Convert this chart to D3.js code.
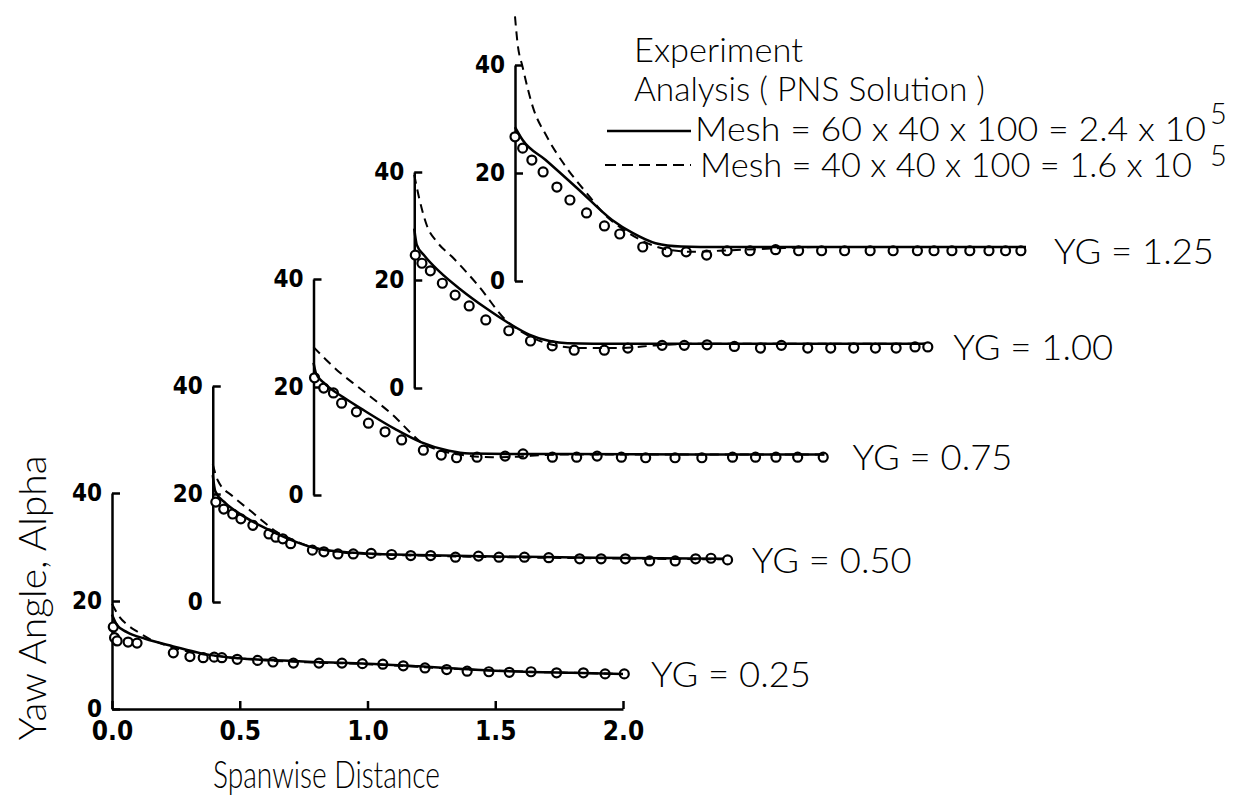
<!DOCTYPE html>
<html lang="en">
<head>
<meta charset="utf-8">
<style type="text/css">
  body { margin: 0; background: #fff; }
  svg { display: block; background: #fff; }
  .axis .domain, .axis .tick line { stroke: #000; stroke-width: 2.5px; }
  .axis .tick text { fill: #000; }
  .label { font-family: Lato, "DejaVu Sans Condensed", sans-serif; font-weight: 300; fill: #000; }
  .fine { fill: none; stroke: #000; stroke-width: 2.5px; }
  .coarse { fill: none; stroke: #000; stroke-width: 2px; stroke-dasharray: 9 6; }
  .exp { fill: #fff; stroke: #000; stroke-width: 2.2px; }
</style>
</head>
<body>
<svg width="1240" height="800"></svg>
<script src="https://cdn.jsdelivr.net/npm/d3@7/dist/d3.min.js"></script>
<script type="text/javascript">

// spanwise stations (YG) and the tick labels
var stations = ["0.25", "0.50", "0.75", "1.00", "1.25"];
var xTicks = [0, 0.5, 1.0, 1.5, 2.0];
var yTicks = [0, 20, 40];

// experiment, [spanwise distance, yaw angle]
var exp025 = [[0.005,15.2],[0.01,13.2],[0.02,12.6],[0.063,12.4],[0.098,12.2],[0.24,10.4],[0.305,9.7],[0.357,9.5],[0.40,9.6],[0.43,9.5],[0.49,9.2],[0.57,9.0],[0.63,8.7],[0.71,8.5],[0.81,8.5],[0.90,8.5],[0.98,8.4],[1.06,8.3],[1.14,8.0],[1.225,7.6],[1.31,7.3],[1.39,7.0],[1.475,6.9],[1.555,6.8],[1.64,6.9],[1.74,6.7],[1.845,6.7],[1.93,6.5],[2.005,6.5]];
var exp050 = [[0.012,18.5],[0.043,17.2],[0.078,16.3],[0.11,15.4],[0.157,14.2],[0.22,12.6],[0.247,12.0],[0.274,11.7],[0.305,10.8],[0.39,9.6],[0.435,9.3],[0.49,8.9],[0.55,8.9],[0.62,9.0],[0.70,8.8],[0.775,8.6],[0.853,8.6],[0.95,8.3],[1.04,8.5],[1.12,8.3],[1.22,8.3],[1.315,8.2],[1.436,8.0],[1.52,8.0],[1.615,8.0],[1.71,7.6],[1.81,7.6],[1.89,8.0],[1.95,8.1],[2.015,7.8]];
var exp075 = [[0.004,21.7],[0.04,19.8],[0.078,18.9],[0.11,17.0],[0.168,15.4],[0.215,13.3],[0.28,11.7],[0.345,10.2],[0.43,8.3],[0.50,7.4],[0.56,6.9],[0.64,7.0],[0.75,7.2],[0.82,7.6],[0.935,7.0],[1.03,7.0],[1.11,7.2],[1.205,7.0],[1.30,6.9],[1.415,6.9],[1.52,6.9],[1.64,7.0],[1.73,7.0],[1.81,7.0],[1.895,7.0],[1.995,7.0]];
var exp100 = [[0.004,24.6],[0.03,23.1],[0.063,21.7],[0.11,19.4],[0.16,17.2],[0.215,15.2],[0.28,12.6],[0.37,10.6],[0.455,8.7],[0.54,7.8],[0.626,7.0],[0.744,7.0],[0.836,7.4],[0.97,7.9],[1.057,7.9],[1.146,8.0],[1.253,7.7],[1.355,7.4],[1.437,7.9],[1.54,7.4],[1.63,7.4],[1.72,7.4],[1.805,7.4],[1.886,7.4],[1.96,7.6],[2.01,7.6]];
var exp125 = [[0.0,26.7],[0.03,24.6],[0.066,22.4],[0.11,20.2],[0.164,17.4],[0.215,15.0],[0.28,12.6],[0.35,10.2],[0.41,8.7],[0.50,6.3],[0.595,5.4],[0.67,5.4],[0.75,4.8],[0.83,5.6],[0.92,5.6],[1.02,5.8],[1.11,5.6],[1.20,5.6],[1.29,5.6],[1.39,5.6],[1.48,5.6],[1.575,5.6],[1.64,5.6],[1.71,5.6],[1.78,5.6],[1.855,5.6],[1.92,5.6],[1.98,5.6]];

// PNS solution, mesh 60 x 40 x 100 (solid)
var fine025 = [[0,17.5],[0.02,15.5],[0.06,14.2],[0.13,13.0],[0.24,11.6],[0.35,10.3],[0.45,9.6],[0.6,9.1],[0.8,8.7],[1.0,8.4],[1.2,7.9],[1.5,7.1],[1.8,6.7],[2.0,6.5]];
var fine050 = [[0,23.5],[0.01,20.5],[0.05,18.3],[0.1,16.5],[0.2,13.8],[0.3,11.6],[0.4,10.0],[0.5,9.3],[0.6,9.0],[0.8,8.7],[1.0,8.5],[1.5,8.2],[2.0,8.0]];
var fine075 = [[0,24.5],[0.01,22.5],[0.04,20.8],[0.12,18.0],[0.2,15.6],[0.32,12.2],[0.42,9.8],[0.53,8.2],[0.61,7.7],[0.8,7.6],[1.0,7.6],[1.5,7.5],[2.0,7.5]];
var fine100 = [[0,29.5],[0.01,26.5],[0.04,24.5],[0.1,21.5],[0.18,18.3],[0.28,14.8],[0.37,12.0],[0.45,9.9],[0.53,8.7],[0.6,8.3],[0.8,8.2],[1.0,8.2],[1.5,8.2],[2.0,8.2]];
var fine125 = [[0,28.5],[0.03,26.1],[0.12,22.4],[0.25,16.9],[0.38,11.3],[0.46,8.9],[0.55,7.0],[0.65,6.4],[0.8,6.3],[1.0,6.3],[1.5,6.3],[2.0,6.3]];

// PNS solution, mesh 40 x 40 x 100 (dashed)
var coarse025 = [[0,19.5],[0.03,17.0],[0.06,15.6],[0.1,14.3],[0.15,12.9],[0.2,12.0],[0.3,10.6],[0.45,9.6],[0.6,9.0],[0.8,8.6],[1.0,8.3],[1.2,7.8],[1.5,7.1],[1.8,6.7],[2.0,6.5]];
var coarse050 = [[0,25.5],[0.02,22.5],[0.08,19.5],[0.15,16.8],[0.2,14.8],[0.25,13.0],[0.3,11.8],[0.4,10.0],[0.5,9.2],[0.6,8.9],[0.8,8.6],[1.0,8.4],[1.5,8.1],[2.0,7.9]];
var coarse075 = [[0,27.4],[0.05,25.0],[0.1,22.8],[0.175,20.0],[0.25,17.2],[0.32,14.4],[0.37,12.0],[0.42,9.8],[0.5,8.2],[0.6,7.3],[0.7,7.0],[0.8,7.1],[0.9,7.4],[1.0,7.5],[1.5,7.5],[2.0,7.5]];
var coarse100 = [[0,39.5],[0.02,35.0],[0.05,30.0],[0.09,27.0],[0.15,24.2],[0.25,19.0],[0.36,12.5],[0.45,9.6],[0.55,7.9],[0.65,7.4],[0.8,7.4],[0.95,7.9],[1.1,8.2],[1.5,8.2],[2.0,8.2]];
var coarse125 = [[0,49.0],[0.01,44.0],[0.03,39.6],[0.07,32.2],[0.125,26.7],[0.2,21.1],[0.28,16.3],[0.36,11.9],[0.41,10.0],[0.5,7.4],[0.6,5.8],[0.7,5.4],[0.8,5.6],[1.0,6.0],[1.2,6.3],[1.5,6.3],[2.0,6.3]];

var expSets = [exp025, exp050, exp075, exp100, exp125];
var fineSets = [fine025, fine050, fine075, fine100, fine125];
var coarseSets = [coarse025, coarse050, coarse075, coarse100, coarse125];

var svg = d3.select("svg");
var narrow = '"DejaVu Sans Condensed", "Liberation Sans Narrow", sans-serif';

// each station is a copy of the same axes, shifted up and right
var origin = {x: 112, y: 709},
    step = {x: 100.75, y: -107};

var x = d3.scaleLinear().domain([0, 2]).range([0, 511]);
var y = d3.scaleLinear().domain([0, 40]).range([0, -216]);

var line = d3.line()
    .x(function (d) {return x(d[0]);})
    .y(function (d) {return y(d[1]);})
    .curve(d3.curveMonotoneX);

stations.forEach(function (yg, i) {
    var ox = origin.x + i * step.x,
        oy = origin.y + i * step.y;

    var g = svg.append("g").attr("transform", "translate(" + ox + "," + oy + ")");

    g.append("g")
        .attr("class", "axis")
        .call(d3.axisLeft(y).tickValues(yTicks).tickFormat(d3.format("d"))
            .tickSizeInner(-8).tickSizeOuter(0).tickPadding(10))
        .attr("font-size", 24)
        .attr("font-weight", "bold")
        .attr("font-family", narrow);

    if (i == 0) {
        g.append("g")
            .attr("class", "axis")
            .call(d3.axisBottom(x).tickValues(xTicks).tickFormat(d3.format(".1f"))
                .tickSizeInner(-8).tickSizeOuter(0).tickPadding(13))
            .attr("font-size", 26)
            .attr("font-weight", "bold")
            .attr("font-family", narrow);
    }

    g.selectAll(".exp")
        .data(expSets[i])
        .enter()
        .append("circle")
        .attr("class", "exp")
        .attr("cx", function (d) {return x(d[0]);})
        .attr("cy", function (d) {return y(d[1]);})
        .attr("r", 4.5);

    g.append("path").datum(coarseSets[i]).attr("class", "coarse").attr("d", line);
    g.append("path").datum(fineSets[i]).attr("class", "fine").attr("d", line);

    var last = expSets[i][expSets[i].length - 1];
    g.append("text")
        .attr("class", "label")
        .attr("x", x(2) + 28)
        .attr("y", y(last[1]) + 13)
        .attr("font-size", 35)
        .attr("textLength", 160)
        .attr("lengthAdjust", "spacingAndGlyphs")
        .text("YG = " + yg);
});

// axis titles
svg.append("text")
    .attr("class", "label")
    .attr("transform", "translate(46,598) rotate(-90)")
    .attr("text-anchor", "middle")
    .attr("font-size", 37)
    .attr("textLength", 285)
    .attr("lengthAdjust", "spacingAndGlyphs")
    .text("Yaw Angle, Alpha");

svg.append("text")
    .attr("class", "label")
    .attr("x", 213)
    .attr("y", 788)
    .attr("font-size", 37)
    .attr("textLength", 227)
    .attr("lengthAdjust", "spacingAndGlyphs")
    .text("Spanwise Distance");

// legend
var legend = svg.append("g").attr("class", "label").attr("font-size", 34);

legend.append("text").attr("x", 634).attr("y", 62)
    .attr("textLength", 169).attr("lengthAdjust", "spacingAndGlyphs")
    .text("Experiment");
legend.append("text").attr("x", 634).attr("y", 101)
    .attr("textLength", 351).attr("lengthAdjust", "spacingAndGlyphs")
    .text("Analysis ( PNS Solution )");

legend.append("line").attr("class", "fine")
    .attr("x1", 607).attr("x2", 691).attr("y1", 131).attr("y2", 131);
legend.append("text").attr("x", 695).attr("y", 141)
    .attr("textLength", 511).attr("lengthAdjust", "spacingAndGlyphs")
    .text("Mesh = 60 x 40 x 100 = 2.4 x 10");
legend.append("text").attr("x", 1210).attr("y", 124).attr("font-size", 29).text("5");

legend.append("line").attr("class", "coarse")
    .attr("x1", 605).attr("x2", 691).attr("y1", 165).attr("y2", 165)
    .style("stroke-dasharray", "11 6");
legend.append("text").attr("x", 700).attr("y", 177)
    .attr("textLength", 492).attr("lengthAdjust", "spacingAndGlyphs")
    .text("Mesh = 40 x 40 x 100 = 1.6 x 10");
legend.append("text").attr("x", 1210).attr("y", 166).attr("font-size", 29).text("5");

</script>
</body>
</html>
